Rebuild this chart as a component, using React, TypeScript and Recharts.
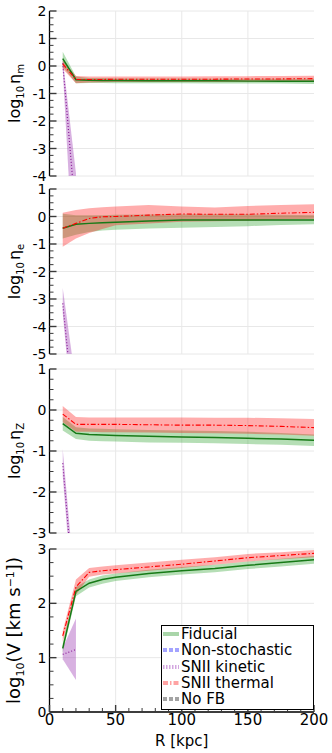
import React from "react";
import { Area, CartesianGrid, ComposedChart, Legend, Line, XAxis, YAxis } from "recharts";

// sampled radii [kpc]
const radii = [10, 20, 30, 40, 50, 75, 100, 125, 150, 175, 200];

// log10 eta_m
const etaMFid = [0.27, -0.5, -0.52, -0.53, -0.53, -0.54, -0.54, -0.54, -0.55, -0.55, -0.55];
const etaMFidLo = [-0.02, -0.63, -0.62, -0.62, -0.63, -0.63, -0.63, -0.64, -0.64, -0.64, -0.65];
const etaMFidHi = [0.52, -0.38, -0.44, -0.44, -0.45, -0.45, -0.45, -0.46, -0.46, -0.46, -0.46];
const etaMTh = [0.08, -0.49, -0.49, -0.49, -0.48, -0.48, -0.48, -0.48, -0.47, -0.47, -0.46];
const etaMThLo = [-0.1, -0.63, -0.6, -0.59, -0.58, -0.58, -0.58, -0.58, -0.57, -0.57, -0.57];
const etaMThHi = [0.2, -0.36, -0.38, -0.38, -0.38, -0.38, -0.38, -0.37, -0.37, -0.36, -0.35];
const etaMKin = [0.1, -5.5];
const etaMKinLo = [-0.1, -8.8];
const etaMKinHi = [0.25, -3.9];

// log10 eta_e
const etaEFid = [-0.43, -0.28, -0.25, -0.23, -0.21, -0.16, -0.13, -0.13, -0.13, -0.13, -0.13];
const etaEFidLo = [-0.8, -0.66, -0.56, -0.51, -0.48, -0.44, -0.41, -0.38, -0.35, -0.31, -0.28];
const etaEFidHi = [0.1, 0.05, 0.05, 0.05, 0.06, 0.07, 0.08, 0.08, 0.08, 0.06, 0.05];
const etaETh = [-0.43, -0.25, -0.07, -0.01, 0.0, 0.05, 0.09, 0.08, 0.08, 0.12, 0.15];
const etaEThLo = [-1.1, -0.8, -0.6, -0.45, -0.32, -0.25, -0.19, -0.17, -0.15, -0.11, -0.08];
const etaEThHi = [0.14, 0.24, 0.3, 0.34, 0.36, 0.42, 0.36, 0.33, 0.38, 0.42, 0.45];
const etaEKin = [-3.16, -7.9];
const etaEKinLo = [-3.5, -8.7];
const etaEKinHi = [-2.6, -6.1];

// log10 eta_Z
const etaZFid = [-0.33, -0.57, -0.6, -0.61, -0.62, -0.64, -0.66, -0.67, -0.69, -0.71, -0.74];
const etaZFidLo = [-0.5, -0.71, -0.75, -0.76, -0.77, -0.79, -0.8, -0.81, -0.83, -0.85, -0.88];
const etaZFidHi = [-0.17, -0.42, -0.45, -0.46, -0.47, -0.49, -0.5, -0.51, -0.53, -0.56, -0.6];
const etaZTh = [-0.1, -0.35, -0.35, -0.35, -0.35, -0.36, -0.37, -0.37, -0.38, -0.4, -0.43];
const etaZThLo = [-0.3, -0.53, -0.53, -0.54, -0.54, -0.55, -0.56, -0.57, -0.58, -0.6, -0.63];
const etaZThHi = [0.1, -0.17, -0.18, -0.18, -0.18, -0.18, -0.18, -0.19, -0.19, -0.2, -0.22];
const etaZKin = [-1.3, -5.1];
const etaZKinLo = [-1.6, -5.6];
const etaZKinHi = [-0.95, -4.6];

// log10 V [km/s]
const velFid = [1.17, 2.22, 2.37, 2.44, 2.48, 2.55, 2.6, 2.64, 2.7, 2.75, 2.8];
const velFidLo = [1.09, 2.13, 2.29, 2.36, 2.41, 2.48, 2.53, 2.57, 2.63, 2.68, 2.73];
const velFidHi = [1.26, 2.3, 2.44, 2.51, 2.55, 2.62, 2.67, 2.71, 2.77, 2.82, 2.87];
const velTh = [1.4, 2.3, 2.57, 2.6, 2.62, 2.67, 2.72, 2.78, 2.84, 2.88, 2.92];
const velThLo = [1.29, 2.16, 2.49, 2.53, 2.55, 2.6, 2.65, 2.71, 2.77, 2.81, 2.85];
const velThHi = [1.49, 2.44, 2.65, 2.68, 2.7, 2.75, 2.8, 2.85, 2.91, 2.94, 2.98];
const velKin = [1.06, 1.15];
const velKinLo = [0.97, 0.59];
const velKinHi = [1.18, 1.72];

// axes
const xMajor = [0, 50, 100, 150, 200];
const xAllTicks = [0, 10, 20, 30, 40, 50, 60, 70, 80, 90, 100, 110, 120, 130, 140, 150, 160, 170, 180, 190, 200];
const yMajorM = [-4, -3, -2, -1, 0, 1, 2];
const yMajorE = [-5, -4, -3, -2, -1, 0, 1];
const yMajorZ = [-3, -2, -1, 0, 1];
const yMajorV = [0, 1, 2, 3];

const legendNames = ["Fiducial", "Non-stochastic", "SNII kinetic", "SNII thermal", "No FB"];
const legendColors = ["#a9d5a9", "#a3a3ff", "#d3a6e0", "#ffa3a3", "#a3a3a3"];
const legendDashes = ["", "4 2", "1.5 1.5", "5 2 1.5 2", "4 2"];

const FONT = "DejaVu Sans, sans-serif";
const LEFT_W = 49.5;
const RIGHT_M = 18;
const PAD = 10;
const AXIS_LINE = { stroke: "#000", strokeWidth: 1.3 };

// minor ticks every 0.25 between the major ones
function quarterSteps(majors: number[]) {
  const out: number[] = [];
  const lo = majors[0] * 4;
  const hi = majors[majors.length - 1] * 4;
  for (let k = lo; k <= hi; k++) out.push(k / 4);
  return out;
}

type Side = "left" | "right" | "top" | "bottom";

function makeTick(side: Side, majors: number[], labels: boolean) {
  return function TickMark(props: any) {
    const { x, y, payload } = props;
    const v = payload.value;
    const major = majors.includes(v);
    const len = major ? 7 : 4;
    const st = { stroke: "#3a3a3a", strokeWidth: major ? 1.4 : 1 };
    let line;
    if (side === "left") line = <line x1={x} y1={y} x2={x + len} y2={y} {...st} />;
    else if (side === "right") line = <line x1={x} y1={y} x2={x - len} y2={y} {...st} />;
    else if (side === "top") line = <line x1={x} y1={y} x2={x} y2={y + len} {...st} />;
    else line = <line x1={x} y1={y} x2={x} y2={y - len} {...st} />;
    let label = null;
    if (labels && major) {
      label =
        side === "left" ? (
          <text x={x - 3} y={y} dy="0.36em" textAnchor="end" fontSize={14} fontFamily={FONT} fill="#000">
            {v}
          </text>
        ) : (
          <text x={x} y={y + 2} dy="0.75em" textAnchor="middle" fontSize={15} fontFamily={FONT} fill="#000">
            {v}
          </text>
        );
    }
    return (
      <g>
        {line}
        {label}
      </g>
    );
  };
}

function LegendBox() {
  return (
    <div
      style={{
        boxSizing: "border-box",
        width: 153,
        height: 85,
        border: "1px solid #000",
        background: "#fff",
        padding: "0 0 0 1px",
      }}
    >
      {legendNames.map((name, i) => (
        <div key={name} style={{ display: "flex", alignItems: "center", height: 16.3 }}>
          <svg width={16} height={8} style={{ marginRight: 2, flex: "none" }}>
            <line x1={0} y1={4} x2={16} y2={4} stroke={legendColors[i]} strokeWidth={4} strokeDasharray={legendDashes[i] || undefined} />
          </svg>
          <span style={{ fontFamily: FONT, fontSize: "15px", lineHeight: "16px", color: "#000", whiteSpace: "nowrap" }}>{name}</span>
        </div>
      ))}
    </div>
  );
}

type PanelProps = {
  top: number;
  plotH: number;
  majors: number[];
  fid: number[];
  fidLo: number[];
  fidHi: number[];
  th: number[];
  thLo: number[];
  thHi: number[];
  kin: number[];
  kinLo: number[];
  kinHi: number[];
  title: React.ReactNode;
  titleSize: number;
  bottom?: boolean;
};

function Panel(p: PanelProps) {
  const rows = radii.map((R, i) => ({
    R,
    fid: p.fid[i],
    fidBand: [p.fidLo[i], p.fidHi[i]],
    th: p.th[i],
    thBand: [p.thLo[i], p.thHi[i]],
  }));
  const kinRows = p.kin.map((v, i) => ({ R: radii[i], kin: v, kinBand: [p.kinLo[i], p.kinHi[i]] }));
  const xH = p.bottom ? 41 : 0;
  const mBottom = p.bottom ? 0 : PAD;
  const height = PAD + p.plotH + xH + mBottom;
  const cy = PAD + p.plotH / 2;
  const domain: [number, number] = [p.majors[0], p.majors[p.majors.length - 1]];
  const yTicks = quarterSteps(p.majors);

  return (
    <div style={{ position: "absolute", left: 0, top: p.top - PAD }}>
      <ComposedChart width={332} height={height} data={rows} margin={{ top: PAD, right: RIGHT_M, bottom: mBottom, left: 0 }}>
        <CartesianGrid stroke="#e8e8e8" horizontalValues={p.majors} verticalValues={[50, 100, 150]} />
        <XAxis
          dataKey="R"
          type="number"
          domain={[0, 200]}
          allowDataOverflow
          ticks={xAllTicks}
          interval={0}
          height={xH}
          tickSize={0}
          tickMargin={0}
          tickLine={false}
          axisLine={AXIS_LINE}
          tick={makeTick("bottom", xMajor, !!p.bottom)}
          label={
            p.bottom
              ? { value: "R [kpc]", position: "insideBottom", offset: 7, fontSize: 15, fill: "#000", fontFamily: FONT }
              : undefined
          }
        />
        <XAxis
          xAxisId="top"
          orientation="top"
          type="number"
          domain={[0, 200]}
          allowDataOverflow
          ticks={xAllTicks}
          interval={0}
          height={0}
          tickSize={0}
          tickMargin={0}
          tickLine={false}
          axisLine={AXIS_LINE}
          tick={makeTick("top", xMajor, false)}
        />
        <YAxis
          type="number"
          domain={domain}
          allowDataOverflow
          ticks={yTicks}
          interval={0}
          width={LEFT_W}
          tickSize={0}
          tickMargin={0}
          tickLine={false}
          axisLine={AXIS_LINE}
          tick={makeTick("left", p.majors, true)}
          label={{
            content: () => (
              <text
                x={20}
                y={cy}
                transform={`rotate(-90 20 ${cy})`}
                textAnchor="middle"
                fontSize={p.titleSize}
                fontFamily={FONT}
                fill="#000"
              >
                {p.title}
              </text>
            ),
          }}
        />
        <YAxis
          yAxisId="right"
          orientation="right"
          type="number"
          domain={domain}
          allowDataOverflow
          ticks={yTicks}
          interval={0}
          width={0}
          tickSize={0}
          tickMargin={0}
          tickLine={false}
          axisLine={AXIS_LINE}
          tick={makeTick("right", p.majors, false)}
        />
        <Area type="linear" dataKey="fidBand" stroke="none" fill="#2ca02c" fillOpacity={0.35} isAnimationActive={false} activeDot={false} />
        <Line type="linear" dataKey="fid" stroke="#177a17" strokeWidth={1.5} dot={false} activeDot={false} isAnimationActive={false} />
        <Area type="linear" data={kinRows} dataKey="kinBand" stroke="none" fill="#9932b0" fillOpacity={0.38} isAnimationActive={false} activeDot={false} />
        <Line type="linear" data={kinRows} dataKey="kin" stroke="#8a1f96" strokeWidth={1.2} strokeDasharray="1 2" dot={false} activeDot={false} isAnimationActive={false} />
        <Area type="linear" dataKey="thBand" stroke="none" fill="#ff0000" fillOpacity={0.32} isAnimationActive={false} activeDot={false} />
        <Line type="linear" dataKey="th" stroke="#ff0000" strokeWidth={1.1} strokeDasharray="5 2 1.5 2" dot={false} activeDot={false} isAnimationActive={false} />
        {p.bottom && (
          <Legend
            layout="vertical"
            align="center"
            verticalAlign="middle"
            wrapperStyle={{ left: 161, top: 625 - (p.top - PAD), width: 153, height: 85 }}
            content={() => <LegendBox />}
          />
        )}
      </ComposedChart>
    </div>
  );
}

const titleM = (
  <>
    <tspan>log</tspan>
    <tspan dy={4} fontSize={10}>10</tspan>
    <tspan dy={-4} dx={2}>η</tspan>
    <tspan dy={4} fontSize={10}>m</tspan>
  </>
);
const titleE = (
  <>
    <tspan>log</tspan>
    <tspan dy={4} fontSize={10}>10</tspan>
    <tspan dy={-4} dx={2}>η</tspan>
    <tspan dy={4} fontSize={10}>e</tspan>
  </>
);
const titleZ = (
  <>
    <tspan>log</tspan>
    <tspan dy={4} fontSize={10}>10</tspan>
    <tspan dy={-4} dx={2}>η</tspan>
    <tspan dy={4} fontSize={10}>Z</tspan>
  </>
);
const titleV = (
  <>
    <tspan>log</tspan>
    <tspan dy={4} fontSize={11}>10</tspan>
    <tspan dy={-4}>(V [km s</tspan>
    <tspan dy={-6} fontSize={11}>−1</tspan>
    <tspan dy={6}>])</tspan>
  </>
);

export default function App() {
  return (
    <div style={{ position: "absolute", left: 0, top: 0, width: 332, height: 753, background: "#fff", overflow: "hidden" }}>
      <Panel top={11} plotH={165} majors={yMajorM} fid={etaMFid} fidLo={etaMFidLo} fidHi={etaMFidHi} th={etaMTh} thLo={etaMThLo} thHi={etaMThHi} kin={etaMKin} kinLo={etaMKinLo} kinHi={etaMKinHi} title={titleM} titleSize={16} />
      <Panel top={189} plotH={165} majors={yMajorE} fid={etaEFid} fidLo={etaEFidLo} fidHi={etaEFidHi} th={etaETh} thLo={etaEThLo} thHi={etaEThHi} kin={etaEKin} kinLo={etaEKinLo} kinHi={etaEKinHi} title={titleE} titleSize={16} />
      <Panel top={369} plotH={164} majors={yMajorZ} fid={etaZFid} fidLo={etaZFidLo} fidHi={etaZFidHi} th={etaZTh} thLo={etaZThLo} thHi={etaZThHi} kin={etaZKin} kinLo={etaZKinLo} kinHi={etaZKinHi} title={titleZ} titleSize={16} />
      <Panel top={549} plotH={163} majors={yMajorV} fid={velFid} fidLo={velFidLo} fidHi={velFidHi} th={velTh} thLo={velThLo} thHi={velThHi} kin={velKin} kinLo={velKinLo} kinHi={velKinHi} title={titleV} titleSize={18} bottom />
    </div>
  );
}
